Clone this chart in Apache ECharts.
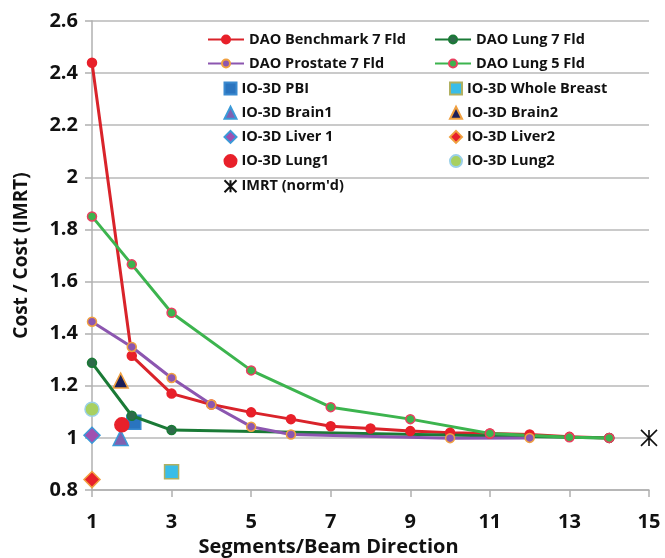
<!DOCTYPE html>
<html>
<head>
<meta charset="utf-8">
<script src="https://cdn.jsdelivr.net/npm/echarts@6/dist/echarts.min.js"></script>
<style>
  html, body { margin: 0; padding: 0; background: #fff; }
  #chart { width: 665px; height: 558px; }
</style>
</head>
<body>
<div id="chart"></div>
<script>
// line series: [segments, cost ratio]
var benchmark7 = [[1, 2.44], [2, 1.315], [3, 1.17], [4, 1.128], [5, 1.098], [6, 1.072], [7, 1.045], [8, 1.036], [9, 1.026], [10, 1.02], [11, 1.017], [12, 1.013], [13, 1.004], [14, 1.0]];
var prostate7 = [[1, 1.446], [2, 1.349], [3, 1.23], [4, 1.128], [5, 1.043], [6, 1.013], [10, 0.999], [12, 1.0]];
var lung7 = [[1, 1.288], [2, 1.085], [3, 1.03], [14, 1.0]];
var lung5 = [[1, 1.85], [2, 1.666], [3, 1.48], [5, 1.259], [7, 1.118], [9, 1.072], [11, 1.017], [13, 1.002], [14, 1.0]];
// single IO-3D points
var pbi = [[2.05, 1.06]];
var wholeBreast = [[3, 0.87]];
var brain1 = [[1.72, 1.0]];
var brain2 = [[1.72, 1.22]];
var liver1 = [[1, 1.01]];
var liver2 = [[1, 0.84]];
var ioLung1 = [[1.75, 1.05]];
var ioLung2 = [[1, 1.11]];
var imrt = [[15, 1.0]];

var font = "'Open Sans', sans-serif";
var chart = echarts.init(document.getElementById("chart"));

function lineSeries(name, data, color, dotFill, dotBorder) {
  return {
    name: name,
    type: "line",
    data: data,
    symbol: "circle",
    symbolSize: 9,
    lineStyle: { color: color, width: 3 },
    itemStyle: { color: dotFill, borderColor: dotBorder, borderWidth: 1.5 },
    clip: false
  };
}
function dotSeries(name, data, symbol, size, fill, border) {
  return {
    name: name,
    type: "scatter",
    data: data,
    symbol: symbol,
    symbolSize: size,
    itemStyle: { color: fill, borderColor: border, borderWidth: 1.5, opacity: 1 },
    clip: false
  };
}

var legendText = { fontFamily: font, fontWeight: "bold", fontSize: 14.5, color: "#111", lineHeight: 15 };
function lineLegend(left, top, names) {
  return {
    left: left, top: top, orient: "vertical", padding: 0,
    itemGap: 9, itemWidth: 36, itemHeight: 10, itemTextGap: 5,
    textStyle: legendText, data: names
  };
}
function dotLegend(left, top, names) {
  return {
    left: left, top: top, orient: "vertical", padding: 0,
    itemGap: 9.2, itemWidth: 12, itemHeight: 12, itemTextGap: 14,
    textStyle: legendText, data: names
  };
}

var option = {
  backgroundColor: "#fff",
  animation: false,
  grid: { left: 92, right: 16, top: 21, bottom: 68, containLabel: false, outerBoundsMode: "none" },
  legend: [
    lineLegend(207, 32, ["DAO Benchmark 7 Fld", "DAO Prostate 7 Fld"]),
    dotLegend(222, 81, ["IO-3D PBI", "IO-3D Brain1", "IO-3D Liver 1", "IO-3D Lung1", "IMRT (norm'd)"]),
    lineLegend(434, 32, ["DAO Lung 7 Fld", "DAO Lung 5 Fld"]),
    dotLegend(449, 81, ["IO-3D Whole Breast", "IO-3D Brain2", "IO-3D Liver2", "IO-3D Lung2"])
  ],
  xAxis: {
    type: "value",
    min: 1, max: 15, interval: 2,
    name: "Segments/Beam Direction",
    nameLocation: "middle",
    nameGap: 44,
    nameTextStyle: { fontFamily: font, fontWeight: "bold", fontSize: 20, color: "#111", padding: [0, 84, 0, 0] },
    axisLine: { show: true, lineStyle: { color: "#b0b0b0", width: 1.5 } },
    axisTick: { show: true, length: 7, lineStyle: { color: "#b0b0b0", width: 1.5 } },
    axisLabel: { fontFamily: font, fontWeight: "bold", fontSize: 20, color: "#111", margin: 22 },
    splitLine: { show: false }
  },
  yAxis: {
    type: "value",
    min: 0.8, max: 2.6, interval: 0.2,
    name: "Cost / Cost (IMRT)",
    nameLocation: "middle",
    nameGap: 61,
    nameTextStyle: { fontFamily: font, fontWeight: "bold", fontSize: 19, color: "#111" },
    axisLine: { show: true, lineStyle: { color: "#b0b0b0", width: 1.5 } },
    axisTick: { show: true, length: 7, lineStyle: { color: "#b0b0b0", width: 1.5 } },
    axisLabel: {
      fontFamily: font, fontWeight: "bold", fontSize: 20, color: "#111", margin: 14,
      formatter: function (v) { return +v.toFixed(1) + ""; }
    },
    splitLine: { show: true, lineStyle: { color: "#b8b8b8", width: 1.5 } }
  },
  series: [
    lineSeries("DAO Benchmark 7 Fld", benchmark7, "#d9232a", "#e8202a", "#e8202a"),
    lineSeries("DAO Lung 7 Fld", lung7, "#1a7a36", "#2e6a4a", "#1a7a36"),
    lineSeries("DAO Prostate 7 Fld", prostate7, "#8c56b0", "#8c56b0", "#f0a040"),
    lineSeries("DAO Lung 5 Fld", lung5, "#3cb44e", "#3cb44e", "#e84060"),
    dotSeries("IO-3D PBI", pbi, "rect", 14, "#2a74bf", "#3a8ad0"),
    dotSeries("IO-3D Whole Breast", wholeBreast, "rect", 14, "#39bde8", "#b0b060"),
    dotSeries("IO-3D Brain1", brain1, "triangle", 15, "#8060b0", "#3a9ad8"),
    dotSeries("IO-3D Brain2", brain2, "triangle", 15, "#1c1f5a", "#f0a040"),
    dotSeries("IO-3D Liver 1", liver1, "diamond", 16, "#a050b0", "#3a9ad8"),
    dotSeries("IO-3D Liver2", liver2, "diamond", 16, "#e8202a", "#f0a040"),
    dotSeries("IO-3D Lung1", ioLung1, "circle", 14, "#e8202a", "#e8202a"),
    dotSeries("IO-3D Lung2", ioLung2, "circle", 14, "#a8d060", "#9ad0e8"),
    {
      name: "IMRT (norm'd)",
      type: "scatter",
      data: imrt,
      symbol: "path://M0,0 L10,10 M10,0 L0,10 M5,0 L5,10",
      symbolSize: 16,
      itemStyle: { color: "none", borderColor: "#111", borderWidth: 1.6, opacity: 1 },
      clip: false
    }
  ]
};
chart.setOption(option);
</script>
</body>
</html>
